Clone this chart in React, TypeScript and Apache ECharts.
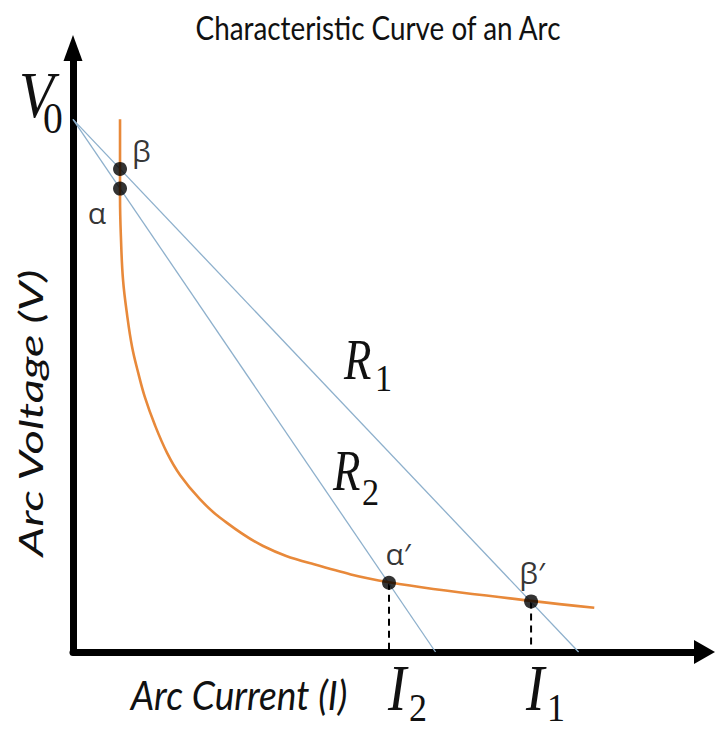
import React, { useEffect, useRef } from "react";
import * as echarts from "echarts";

// Arc characteristic curve (arbitrary units: V0 = 100, I1 = 100)
const curveI = [9.3, 9.3, 9.5, 9.9, 10.7, 11.7, 12.9, 14.2, 16.2, 18.6, 21.2, 25.1, 29.1, 37.6, 47.5, 62.5, 90.6, 103.1];
const curveV = [100, 85.4, 77.3, 69.8, 63.3, 57.2, 52.4, 47.9, 42.6, 37.4, 33.2, 28.7, 25.2, 19.9, 16.5, 13.1, 9.6, 8.3];

const V0 = 100;
const I1 = 100;
const I2 = 71.7;

const pointNames = ["β", "α", "α′", "β′"];
const pointI = [9.3, 9.3, 62.5, 90.6];
const pointV = [90.7, 87.0, 13.0, 9.5];

const ORANGE = "#e8893a";
const BLUE = "#8eb0cc";
const serif = "'Liberation Serif', 'DejaVu Serif', serif";
const sans = "Lato, 'Open Sans', sans-serif";
const greek = "'Open Sans', 'Noto Sans', 'DejaVu Sans', sans-serif";

export default function App() {
  const ref = useRef<HTMLDivElement>(null);
  useEffect(() => {
    if (!ref.current) return;
    const chart = echarts.init(ref.current, null, { renderer: "svg" });
    const labelPos: any[] = [
      { position: "right", offset: [0, -18] },
      { position: "left", offset: [-2, 24] },
      { position: "top", offset: [9, -2] },
      { position: "top", offset: [1, -2] },
    ];
    const mathLetter = (text: string, x: number, y: number, size: number, sx: number) => ({
      type: "text",
      x,
      y,
      scaleX: sx,
      style: { text, fontFamily: serif, fontStyle: "italic", fontSize: size, fill: "#111", align: "left", verticalAlign: "bottom" },
    });
    const mathSub = (text: string, x: number, y: number, size: number) => ({
      type: "text",
      x,
      y,
      scaleX: 0.9,
      style: { text, fontFamily: serif, fontSize: size, fill: "#111", align: "left", verticalAlign: "bottom" },
    });
    chart.setOption({
      animation: false,
      backgroundColor: "#ffffff",
      grid: { left: 73, right: 11.5, top: 48, bottom: 79, containLabel: false },
      xAxis: {
        type: "value",
        min: 0,
        max: 124.9,
        axisLine: {
          show: true,
          onZero: false,
          symbol: ["none", "triangle"],
          symbolSize: [24, 21],
          lineStyle: { color: "#000", width: 7 },
        },
        axisTick: { show: false },
        axisLabel: { show: false },
        splitLine: { show: false },
      },
      yAxis: {
        type: "value",
        min: 0,
        max: 113.4,
        axisLine: {
          show: true,
          onZero: false,
          symbol: ["none", "triangle"],
          symbolSize: [19, 26],
          lineStyle: { color: "#000", width: 7 },
        },
        axisTick: { show: false },
        axisLabel: { show: false },
        splitLine: { show: false },
      },
      series: [
        {
          name: "R1",
          type: "line",
          data: [[0, V0], [I1, 0]],
          symbol: "none",
          lineStyle: { color: BLUE, width: 1.3 },
          z: 2,
        },
        {
          name: "R2",
          type: "line",
          data: [[0, V0], [I2, 0]],
          symbol: "none",
          lineStyle: { color: BLUE, width: 1.3 },
          z: 2,
        },
        {
          name: "arc",
          type: "line",
          data: curveI.map((x, i) => [x, curveV[i]]),
          symbol: "none",
          smooth: 0.4,
          lineStyle: { color: ORANGE, width: 2.6 },
          z: 3,
        },
        {
          name: "drop2",
          type: "line",
          data: [[pointI[2], pointV[2]], [pointI[2], 0]],
          symbol: "none",
          lineStyle: { color: "#000", width: 2, type: [7, 5] },
          z: 1,
        },
        {
          name: "drop1",
          type: "line",
          data: [[pointI[3], pointV[3]], [pointI[3], 0]],
          symbol: "none",
          lineStyle: { color: "#000", width: 2, type: [7, 5] },
          z: 1,
        },
        {
          name: "points",
          type: "scatter",
          symbolSize: 14,
          itemStyle: { color: "#000" },
          z: 5,
          data: pointNames.map((n, i) => ({
            value: [pointI[i], pointV[i]],
            name: n,
            label: {
              show: true,
              formatter: n,
              fontFamily: greek,
              fontSize: 30,
              color: "#000",
              ...labelPos[i],
            },
          })),
        },
      ],
      graphic: [
        {
          type: "text",
          x: 378,
          y: 27,
          scaleX: 0.87,
          style: {
            text: "Characteristic Curve of an Arc",
            fontFamily: sans,
            fontSize: 32,
            fill: "#111",
            align: "center",
            verticalAlign: "middle",
          },
        },
        mathLetter("V", 19, 127, 65, 0.88),
        mathSub("0", 43, 140, 44),
        mathLetter("R", 344, 388, 56, 0.8),
        mathSub("1", 375, 397, 38),
        mathLetter("R", 333, 499, 56, 0.8),
        mathSub("2", 362, 511, 38),
        mathLetter("I", 388, 720, 65, 0.85),
        mathSub("2", 409, 727, 40),
        mathLetter("I", 526, 720, 65, 0.85),
        mathSub("1", 547, 727, 40),
        {
          type: "text",
          x: 239,
          y: 694,
          scaleX: 0.93,
          style: { text: "Arc Current (I)", fontFamily: sans, fontStyle: "italic", fontSize: 40, fill: "#111", align: "center", verticalAlign: "middle" },
        },
        {
          type: "text",
          x: 31,
          y: 413,
          rotation: Math.PI / 2,
          scaleX: 1.47,
          style: { text: "Arc Voltage (V)", fontFamily: sans, fontStyle: "italic", fontSize: 32, fill: "#111", align: "center", verticalAlign: "middle" },
        },
      ],
    });
    return () => chart.dispose();
  }, []);
  return <div ref={ref} style={{ width: 716, height: 731, position: "absolute", left: 0, top: 0 }} />;
}
